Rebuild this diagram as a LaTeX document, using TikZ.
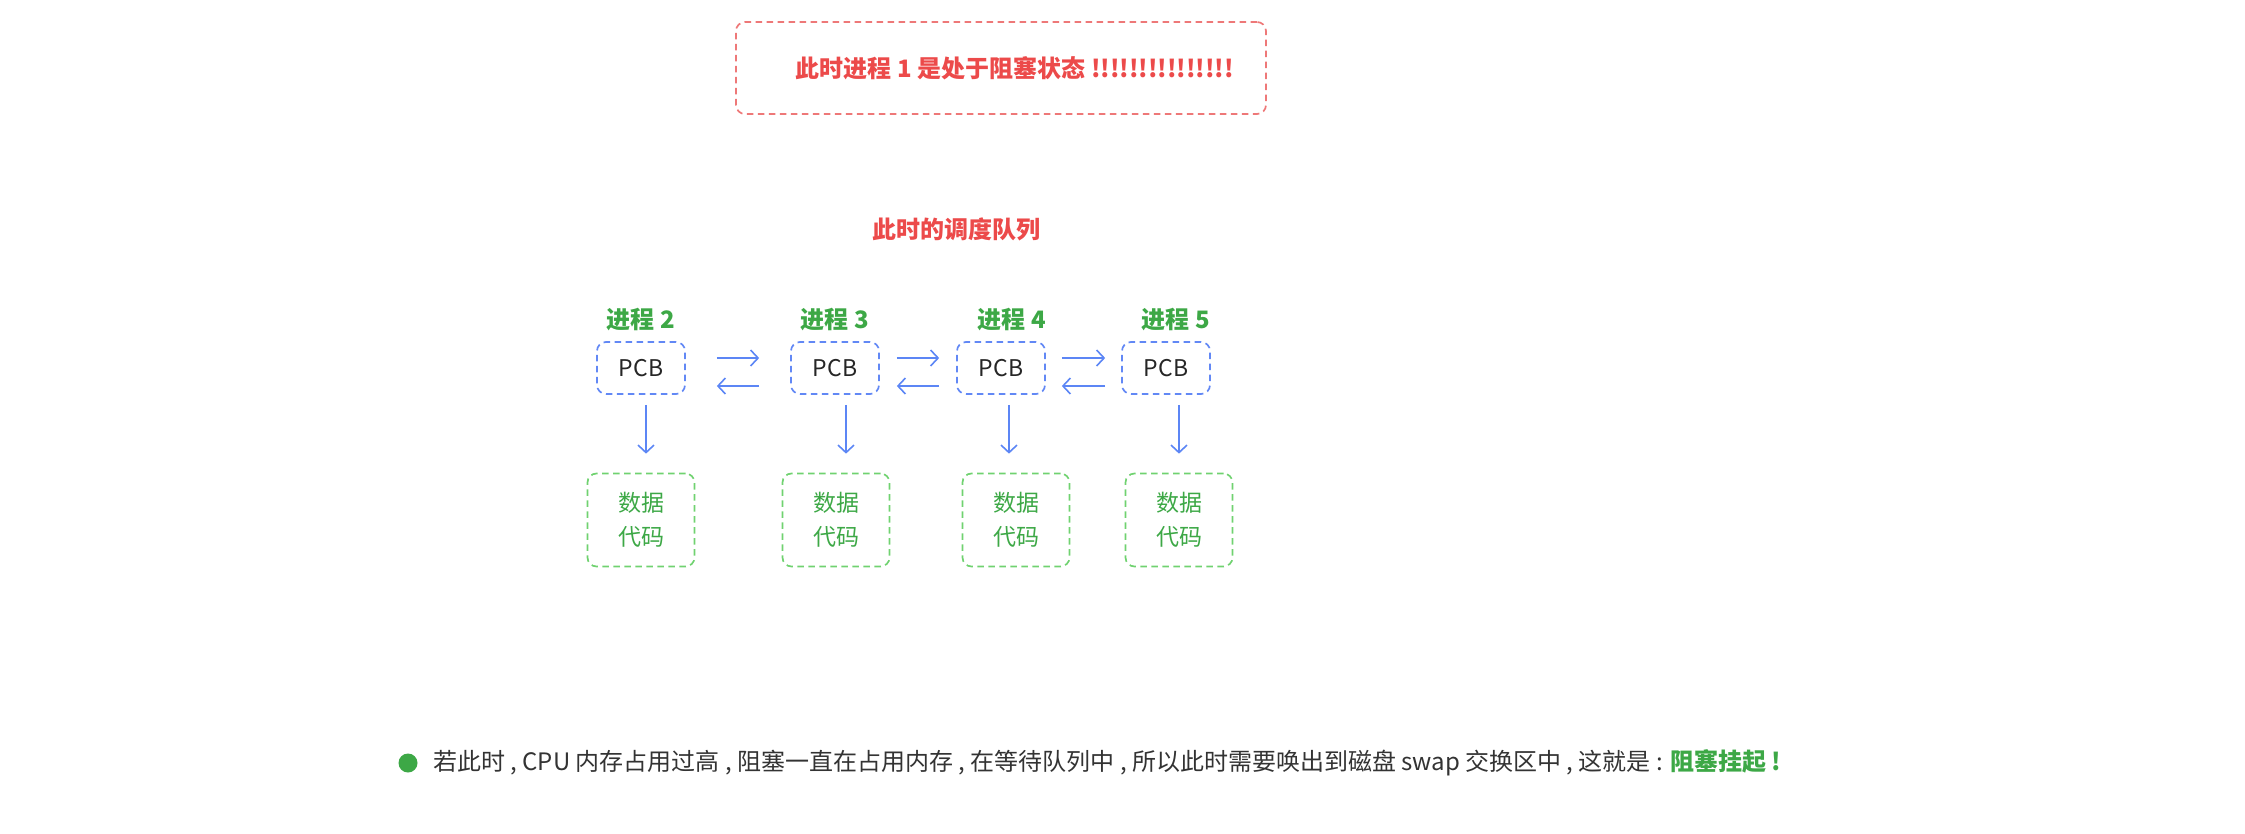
\documentclass[tikz,border=0pt]{standalone}
\usepackage{fontspec}
\setmainfont{Noto Sans CJK SC}
\usepackage{tikz}
\usetikzlibrary{arrows.meta}

\definecolor{warnred}{RGB}{236,74,74}
\definecolor{dashred}{RGB}{238,120,120}
\definecolor{okgreen}{RGB}{61,168,70}
\definecolor{dashgreen}{RGB}{112,210,112}
\definecolor{dashblue}{RGB}{98,136,245}
\definecolor{flowblue}{RGB}{92,134,245}
\definecolor{bodytext}{RGB}{51,51,51}

\tikzset{
    boxline/.style={dash pattern=on 6.5pt off 4.5pt, line width=1.7pt, rounded corners=9pt},
    warnbox/.style={boxline, draw=dashred, minimum width=530pt, minimum height=92pt},
    pcbbox/.style={boxline, draw=dashblue, minimum width=88pt, minimum height=52pt,
        text=black!85, font=\fontsize{23pt}{28pt}\selectfont},
    databox/.style={boxline, draw=dashgreen, minimum width=107pt, minimum height=93pt,
        text=okgreen, align=center, font=\fontsize{23pt}{34pt}\selectfont},
    redtitle/.style={text=warnred, font=\fontsize{24pt}{28pt}\selectfont\bfseries},
    proclabel/.style={text=okgreen, font=\fontsize{24pt}{28pt}\selectfont\bfseries},
    flow/.style={draw=flowblue, line width=1.6pt, -{Straight Barb[length=7.5pt,width=16pt,line width=1.6pt]}}
}

\begin{document}
\begin{tikzpicture}[x=1pt, y=-1pt]
    \useasboundingbox (0,0) rectangle (2245,833);

    % blocked process 1
    \node[warnbox] (warnframe) at (1001,68) {};
    \node[redtitle] (warn) at (1015,68) {此时进程 1 是处于阻塞状态 !!!!!!!!!!!!!!!};

    \node[redtitle] (queue) at (956,229) {此时的调度队列};

    % processes 2..5
    \foreach \n/\lx/\px/\dx in {2/641/641/641, 3/835/835/836, 4/1012/1001/1016, 5/1176/1166/1179} {
        \node[proclabel] (l\n) at (\lx,320) {进程 \n};
        \node[pcbbox] (p\n) at (\px,368) {PCB};
        \node[databox] (d\n) at (\dx,520) {数据\\代码};
    }

    % queue links
    \foreach \a/\b/\s in {p2/p3/31pt, p3/p4/17pt, p4/p5/16pt} {
        \draw[flow, shorten <=\s, shorten >=\s] ([yshift=10pt]\a.east) -- ([yshift=10pt]\b.west);
        \draw[flow, shorten <=\s, shorten >=\s] ([yshift=-18pt]\b.west) -- ([yshift=-18pt]\a.east);
    }

    % pcb to data
    \foreach \n/\dx in {2/5pt, 3/11pt, 4/8pt, 5/13pt}
        \draw[flow, shorten <=10pt, shorten >=19pt] ([xshift=\dx]p\n.south) -- ([xshift=\dx]p\n.south |- d\n.north);

    % note
    \fill[okgreen] (408,763) circle (9.5pt) coordinate (dot);
    \node[anchor=west, inner sep=0pt, text=bodytext, font=\fontsize{24pt}{28pt}\selectfont] (note) at (433,763)
        {若此时 , CPU 内存占用过高 , 阻塞一直在占用内存 , 在等待队列中 , 所以此时需要唤出到磁盘 swap 交换区中 , 这就是 : \textcolor{okgreen}{\bfseries 阻塞挂起 !}};
\end{tikzpicture}
\end{document}
